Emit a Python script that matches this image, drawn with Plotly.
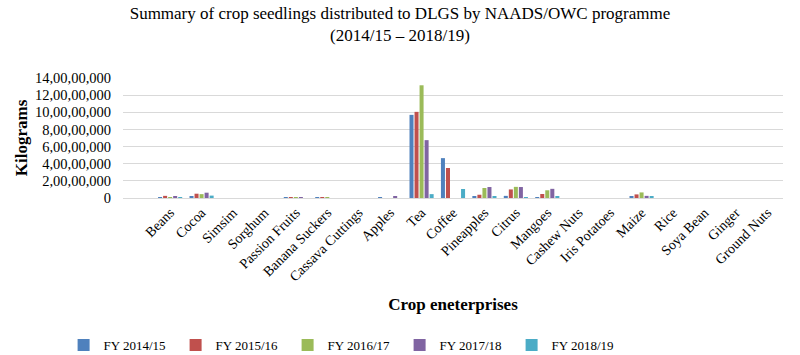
import plotly.graph_objects as go

categories = ["Beans", "Cocoa", "Simsim", "Sorghum", "Passion Fruits", "Banana Suckers",
              "Cassava Cuttings", "Apples", "Tea", "Coffee", "Pineapples", "Citrus", "Mangoes",
              "Cashew Nuts", "Iris Potatoes", "Maize", "Rice", "Soya Bean", "Ginger", "Ground Nuts"]

fy_2014_15 = [1.2e6, 1.5e7, 0, 0, 2e6, 1e6, 0, 2e6, 9.70e8, 4.65e8, 2.2e7, 2.5e7, 5e6, 0, 0, 1.8e7, 0, 0, 0, 0]
fy_2015_16 = [2.5e7, 5.0e7, 0, 0, 3e6, 3e6, 0, 0, 1.005e9, 3.50e8, 3.8e7, 1.00e8, 4.7e7, 0, 0, 4.2e7, 0, 0, 0, 0]
fy_2016_17 = [1.0e7, 4.5e7, 0, 0, 5e6, 2e6, 0, 0, 1.315e9, 0, 1.17e8, 1.30e8, 9.0e7, 0, 0, 6.5e7, 0, 0, 0, 0]
fy_2017_18 = [1.2e7, 6.2e7, 0, 0, 3e6, 0, 0, 1.2e7, 6.75e8, 0, 1.28e8, 1.28e8, 1.07e8, 0, 0, 2.5e7, 0, 0, 0, 0]
fy_2018_19 = [1.0e7, 2.8e7, 0, 0, 0, 0, 0, 0, 4.5e7, 1.05e8, 2.0e7, 3e6, 1.5e7, 0, 0, 2.0e7, 0, 0, 0, 0]

series_names = ["FY 2014/15", "FY 2015/16", "FY 2016/17", "FY 2017/18", "FY 2018/19"]
series_values = [fy_2014_15, fy_2015_16, fy_2016_17, fy_2017_18, fy_2018_19]
colors = ["#4F81BD", "#C0504D", "#9BBB59", "#8064A2", "#4BACC6"]

y_tick_vals = [0, 2e8, 4e8, 6e8, 8e8, 10e8, 12e8, 14e8]
y_tick_text = ["0", "2,00,00,000", "4,00,00,000", "6,00,00,000", "8,00,00,000",
               "10,00,00,000", "12,00,00,000", "14,00,00,000"]

FONT = "Liberation Serif"

fig = go.Figure()
for name, vals, col in zip(series_names, series_values, colors):
    fig.add_trace(go.Bar(x=categories, y=vals, name=name, marker=dict(color=col, line=dict(width=0))))

fig.update_layout(
    width=800, height=355,
    paper_bgcolor="white", plot_bgcolor="white",
    font=dict(family=FONT, color="#000000", size=13),
    barmode="group", bargap=0.2, bargroupgap=0.2,
    margin=dict(l=123, r=17, t=78, b=157, autoexpand=False),
    title=dict(text="Summary of crop seedlings distributed to DLGS by NAADS/OWC programme<br>(2014/15 – 2018/19)",
               x=0.5, xanchor="center", y=0.946, yanchor="top",
               font=dict(family=FONT, size=17, color="#000000")),
    xaxis=dict(type="category", range=[-1.5, 19.5], tickangle=-45, showgrid=False,
               showline=True, linecolor="#D9D9D9", linewidth=1, ticks="",
               tickfont=dict(family=FONT, size=14),
               title=dict(text="<b>Crop eneterprises</b>", font=dict(family=FONT, size=17), standoff=14)),
    yaxis=dict(range=[0, 14e8], tickvals=y_tick_vals, ticktext=y_tick_text,
               showgrid=True, gridcolor="#D9D9D9", gridwidth=1, zeroline=False,
               showline=False, ticks="", ticklabelstandoff=11,
               tickfont=dict(family=FONT, size=14.5),
               title=dict(text="<b>Kilograms</b>", font=dict(family=FONT, size=17), standoff=2)),
    legend=dict(orientation="h", x=-0.09, xanchor="left", y=-1.225, yanchor="middle",
                entrywidth=67, entrywidthmode="pixels", itemwidth=30,
                font=dict(family=FONT, size=13), bgcolor="rgba(0,0,0,0)"),
)

fig.write_html("out.html", config={"displayModeBar": False},
               post_script="document.body.style.margin='0';document.body.style.padding='0';")
